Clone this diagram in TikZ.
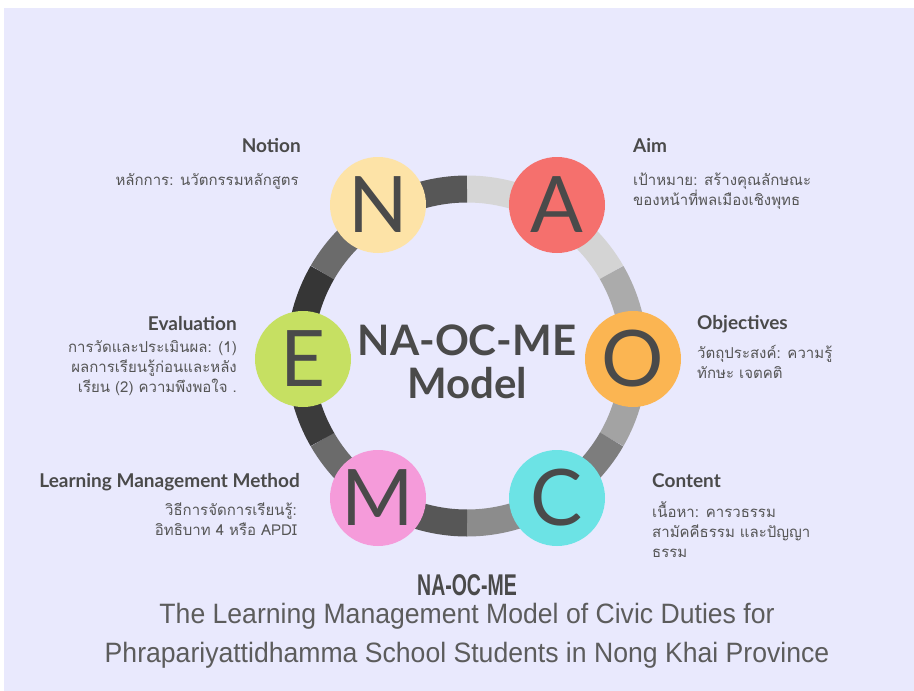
\documentclass[tikz,border=0pt]{standalone}
\usepackage{fontspec}
\usepackage{tikz}
\setmainfont{Lato}
\newfontfamily\thaifont[Script=Thai]{Loma}
\newfontfamily\capfont[FakeStretch=0.95]{Liberation Sans}
\newfontfamily\narrowfont[FakeStretch=0.65]{Liberation Sans}
\definecolor{bg}{HTML}{E9E9FD}
\definecolor{ink}{HTML}{4A4A4A}
\definecolor{txt}{HTML}{555555}
\definecolor{sub}{HTML}{5C5C5C}
\definecolor{cN}{HTML}{FDE3A7}
\definecolor{cA}{HTML}{F5706D}
\definecolor{cO}{HTML}{FBB552}
\definecolor{cC}{HTML}{6CE3E5}
\definecolor{cM}{HTML}{F59BDA}
\definecolor{cE}{HTML}{C6E062}

\begin{document}
\begin{tikzpicture}[x=1pt,y=-1pt]
\useasboundingbox (0,0) rectangle (914,691);
\fill[bg] (4,8) rectangle (914,691);
\tikzstyle{letter}=[circle,minimum size=96pt,inner sep=0pt,text=ink,font=\fontsize{78}{78}\selectfont]
\tikzstyle{head}=[inner sep=0pt,text=ink,font=\bfseries\fontsize{19}{20}\selectfont]
\tikzstyle{thai}=[inner sep=0pt,text=txt,font=\thaifont\fontsize{15}{20}\selectfont]
\coordinate (ctr) at (467,356);
\foreach \a/\p in {90/16,60/17,30/33,0/36,-30/51,-60/45,-90/66,-120/58,-150/77,-180/79,150/58,120/66}
  \draw[black!\p,line width=27pt] (ctr) ++(-\a:167) arc[start angle=-\a,end angle=-\a+30,radius=167];
\node[letter,fill=cN](n) at (378,205) {N};
\node[letter,fill=cA](a) at (557,205) {A};
\node[letter,fill=cO](o) at (633,359) {O};
\node[letter,fill=cC](c) at (557,498) {C};
\node[letter,fill=cM](m) at (378,498) {M};
\node[letter,fill=cE](e) at (303,359) {E};
\node[anchor=base,inner sep=0pt,text=ink,align=center,font=\bfseries\fontsize{42}{43}\selectfont](model) at (467,398) {NA-OC-ME\\Model};
\node[head,anchor=base east](notion) at (301,152) {Notion};
\node[thai,anchor=base east,align=right](notiontxt) at (299,185) {หลักการ: นวัตกรรมหลักสูตร};
\node[head,anchor=base west](aim) at (633,152) {Aim};
\node[thai,anchor=base west,align=left](aimtxt) at (633,205) {เป้าหมาย: สร้างคุณลักษณะ\\ของหน้าที่พลเมืองเชิงพุทธ};
\node[head,anchor=base east](eval) at (237,330) {Evaluation};
\node[thai,anchor=base east,align=right](evaltxt) at (237,392) {การวัดและประเมินผล: (1)\\ผลการเรียนรู้ก่อนและหลัง\\เรียน (2) ความพึงพอใจ .};
\node[head,anchor=base west](obj) at (697,329) {Objectives};
\node[thai,anchor=base west,align=left](objtxt) at (697,378) {วัตถุประสงค์: ความรู้\\ทักษะ เจตคติ};
\node[head,anchor=base east](method) at (300,487) {Learning Management Method};
\node[thai,anchor=base east,align=right](methodtxt) at (297,535) {วิธีการจัดการเรียนรู้:\\อิทธิบาท 4 หรือ APDI};
\node[head,anchor=base west](content) at (652,487) {Content};
\node[thai,anchor=base west,align=left](contenttxt) at (652,557) {เนื้อหา: คารวธรรม\\สามัคคีธรรม และปัญญา\\ธรรม};
\node[anchor=base,inner sep=0pt,text=ink,font=\narrowfont\bfseries\fontsize{30}{30}\selectfont](short) at (467,595) {NA-OC-ME};
\node[anchor=base,inner sep=0pt,text=sub,font=\capfont\fontsize{28}{28}\selectfont](line1) at (467,623) {The Learning Management Model of Civic Duties for};
\node[anchor=base,inner sep=0pt,text=sub,font=\capfont\fontsize{28}{28}\selectfont](line2) at (467,662) {Phrapariyattidhamma School Students in Nong Khai Province};
\end{tikzpicture}
\end{document}
